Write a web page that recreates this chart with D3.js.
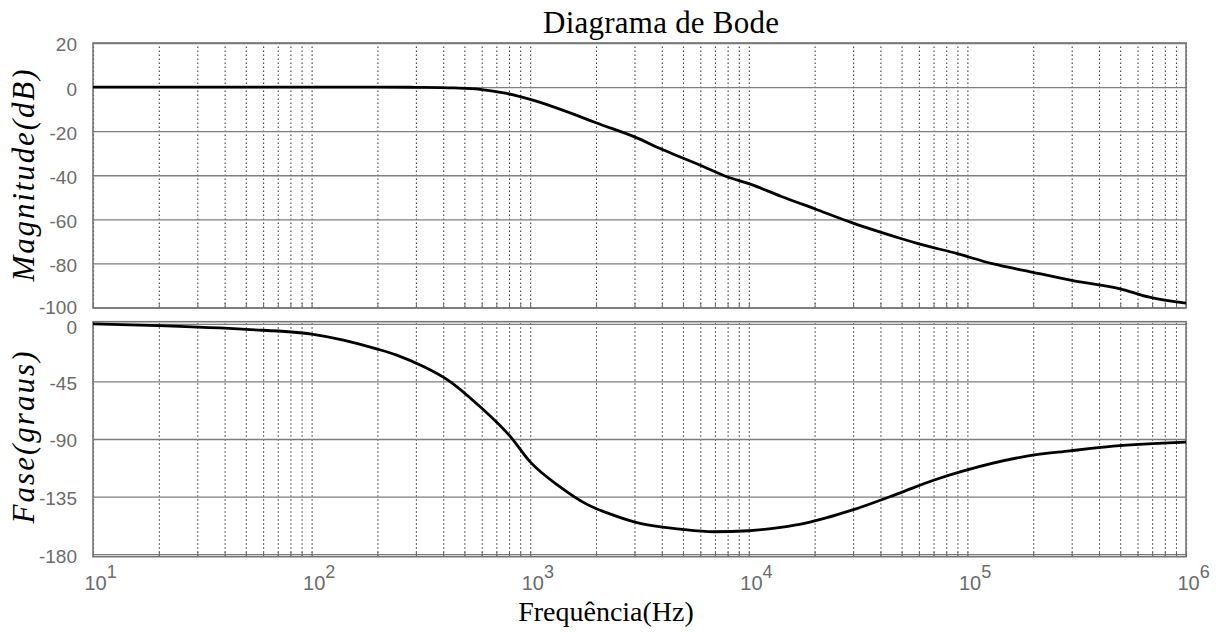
<!DOCTYPE html>
<html>
<head>
<meta charset="utf-8">
<script src="https://cdn.jsdelivr.net/npm/d3@7.9.0/dist/d3.min.js"></script>
<style>
  html, body { margin: 0; padding: 0; background: #fff; }
  svg { display: block; }
  .tick text { font-family: "Liberation Sans", Arial, sans-serif; fill: #6b6b6b; }
</style>
</head>
<body>
<div id="chart"></div>
<script>
// magnitude response (Hz, dB)
const magFreq = [10, 20, 50, 100, 200, 300, 450, 590, 780, 1000, 1700, 2000, 3000, 4000, 6000, 8000,
  10000, 14000, 20000, 30000, 40000, 50000, 60000, 90000, 130000, 190000, 300000, 500000, 680000, 1e6];
const magDb = [0, 0, 0, 0, 0, -0.1, -0.4, -1.0, -2.9, -5.6, -13.5, -16.2, -22.6, -28.2, -35.5, -40.8,
  -43.8, -49.5, -55.2, -61.7, -65.8, -68.8, -71.1, -75.6, -80.1, -83.6, -87.7, -91.5, -95.3, -98.0];

// phase response (Hz, degrees)
const phaseFreq = [10, 20, 50, 100, 200, 245, 325, 425, 590, 810, 1000, 1370, 1810, 2400, 3180, 4840,
  6900, 10000, 14000, 18400, 29600, 47500, 70000, 96000, 187000, 294000, 464000, 1e6];
const phaseDeg = [0, -1.4, -4.3, -8.0, -19.7, -24.4, -33.4, -44.5, -64.8, -88, -107.9, -127.4, -140.9,
  -149.5, -156, -160.4, -162.5, -161.7, -159, -155.5, -145.6, -133.1, -122.2, -114.9, -103.4, -99.3,
  -95.6, -92.5];

const magTicks = [20, 0, -20, -40, -60, -80, -100];
const phaseTicks = [0, -45, -90, -135, -180];
const decades = [1, 2, 3, 4, 5, 6];

const width = 1216, height = 632;
const left = 93, right = 1186;

const svg = d3.select('#chart').append('svg')
  .attr('width', width).attr('height', height);

const x = d3.scaleLog().domain([10, 1e6]).range([left, right]);

// all grid frequencies 1..9 x 10^k
const gridFreqs = [];
for (let k = 1; k < 6; k++) for (let m = 1; m < 10; m++) gridFreqs.push(m * 10 ** k);
gridFreqs.push(1e6);

const panels = [
  { freq: magFreq, vals: magDb, ticks: magTicks,
    y: d3.scaleLinear().domain([-100, 20]).range([307.5, 43]),
    top: 43, bottom: 308 },
  { freq: phaseFreq, vals: phaseDeg, ticks: phaseTicks,
    y: d3.scaleLinear().domain([-182, 1.7]).range([556.7, 321.7]),
    top: 321.7, bottom: 556.7 }
];

panels.forEach((p, i) => {
  const g = svg.append('g');
  const h = p.bottom - p.top;

  // vertical dotted grid
  g.append('g')
    .attr('transform', `translate(0,${p.bottom})`)
    .call(d3.axisBottom(x).tickValues(gridFreqs).tickSize(-h).tickFormat(''))
    .call(a => a.select('.domain').remove())
    .selectAll('line')
      .attr('stroke', '#3c3c3c')
      .attr('stroke-width', 1.1)
      .attr('stroke-dasharray', '1.4,2.6');

  // horizontal solid grid
  g.append('g')
    .attr('transform', `translate(${left},0)`)
    .call(d3.axisLeft(p.y).tickValues(p.ticks).tickSize(-(right - left)).tickFormat(''))
    .call(a => a.select('.domain').remove())
    .selectAll('line')
      .attr('stroke', '#7e7e7e')
      .attr('stroke-width', 1.3);

  // small inner ticks at bottom of box
  g.append('g')
    .attr('transform', `translate(0,${p.bottom})`)
    .call(d3.axisBottom(x).tickValues(gridFreqs).tickSize(-5).tickFormat(''))
    .call(a => a.select('.domain').remove())
    .selectAll('line').attr('stroke', '#666');

  // y tick labels (plain hyphen as in the original)
  g.append('g')
    .attr('transform', `translate(${left},0)`)
    .call(d3.axisLeft(p.y).tickValues(p.ticks).tickSize(0).tickPadding(16)
      .tickFormat(d => String(d)))
    .call(a => a.select('.domain').remove())
    .selectAll('text')
      .attr('dy', d => (i === 0 && d === -100) ? '0.3em' : (i === 1 && d === 0) ? '0.5em' : '0.42em')
      .style('font-size', '19px');

  // box
  g.append('rect')
    .attr('x', left).attr('y', p.top)
    .attr('width', right - left).attr('height', h)
    .attr('fill', 'none')
    .attr('stroke', '#767676')
    .attr('stroke-width', 1.6);

  // curve
  const line = d3.line()
    .x(d => x(d[0]))
    .y(d => p.y(d[1]))
    .curve(d3.curveMonotoneX);
  g.append('path')
    .datum(d3.zip(p.freq, p.vals))
    .attr('d', line)
    .attr('fill', 'none')
    .attr('stroke', '#000')
    .attr('stroke-width', 2.8)
    .attr('stroke-linejoin', 'round');
});

// x axis decade labels with superscripts
const xa = svg.append('g')
  .attr('transform', `translate(0,${panels[1].bottom})`)
  .call(d3.axisBottom(x).tickValues(decades.map(e => 10 ** e)).tickSize(0).tickFormat(''))
  .call(a => a.select('.domain').remove());
xa.selectAll('.tick').each(function(d) {
  const t = d3.select(this).append('text')
    .attr('x', -9).attr('y', 33)
    .attr('text-anchor', 'start')
    .style('font-size', '20px');
  t.append('tspan').text('10');
  t.append('tspan')
    .attr('dy', -12)
    .style('font-size', '18px')
    .text(Math.round(Math.log10(d)));
});

// titles
const serif = '"Liberation Serif", "Times New Roman", serif';
svg.append('text')
  .attr('x', 661).attr('y', 33)
  .attr('text-anchor', 'middle')
  .attr('textLength', 236).attr('lengthAdjust', 'spacing')
  .style('font-family', serif).style('font-size', '31px')
  .text('Diagrama de Bode');

svg.append('text')
  .attr('x', 606).attr('y', 621)
  .attr('text-anchor', 'middle')
  .style('font-family', serif).style('font-size', '28px')
  .text('Frequência(Hz)');

svg.append('text')
  .attr('transform', 'translate(34,175.5) rotate(-90)')
  .attr('text-anchor', 'middle')
  .attr('textLength', 212).attr('lengthAdjust', 'spacing')
  .style('font-family', serif).style('font-size', '31px').style('font-style', 'italic')
  .text('Magnitude(dB)');

svg.append('text')
  .attr('transform', 'translate(34,437.5) rotate(-90)')
  .attr('text-anchor', 'middle')
  .attr('textLength', 172).attr('lengthAdjust', 'spacing')
  .style('font-family', serif).style('font-size', '31px').style('font-style', 'italic')
  .text('Fase(graus)');
</script>
</body>
</html>
